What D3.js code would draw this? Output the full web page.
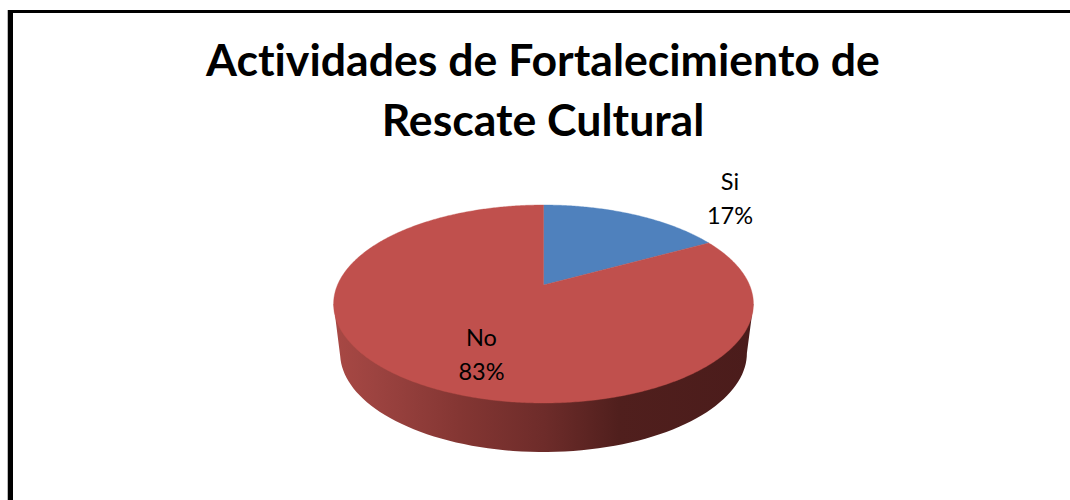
<!DOCTYPE html>
<html><head><meta charset="utf-8">
<script src="https://cdn.jsdelivr.net/npm/d3@7"></script>
<style>html,body{margin:0;padding:0;background:#fff;overflow:hidden}svg{display:block}text{font-variant-ligatures:none}</style>
</head><body><div id="chart"></div>
<script>
const categories = ["Si", "No"];
const values = [17, 83];
const percentLabels = ["17%", "83%"];
const titleLines = ["Actividades de Fortalecimiento de", "Rescate Cultural"];
const sliceColors = ["#4f81bd", "#c0504d"];

const W = 1070, H = 500;
const svg = d3.select("#chart").append("svg").attr("width", W).attr("height", H);
const font = "Lato, Carlito, Calibri, sans-serif";

// frame
svg.append("rect").attr("x", 7).attr("y", 10).attr("width", 1).attr("height", H - 10).attr("fill", "#bbb");
svg.append("rect").attr("x", 8).attr("y", 10).attr("width", 5).attr("height", H - 10).attr("fill", "#000");
svg.append("rect").attr("x", 8).attr("y", 10).attr("width", W - 8).attr("height", 3).attr("fill", "#000");

// perspective ground-plane projection of the pie disc
const cx = 543.5, cy = 304, k = -0.192, cU = 206, aV = 99, bV = -19;
function project(theta) {
  const u = Math.sin(theta), v = -Math.cos(theta), d = 1 + k * v;
  return [cx + cU * u / d, cy + (aV * v + bV) / d];
}
const apex = [cx, cy + bV];

const pie = d3.pie().sort(null).value(d => d)(values);
const line = d3.line();
const defs = svg.append("defs");
const grad = defs.append("linearGradient").attr("id", "wall")
  .attr("gradientUnits", "userSpaceOnUse").attr("x1", 334).attr("x2", 753).attr("y1", 0).attr("y2", 0);
[[0, "#a84844"], [0.1, "#9c4340"], [0.3, "#843633"], [0.5, "#6e2c2a"], [0.68, "#501f1d"], [1, "#4b1c1b"]]
  .forEach(([o, c]) => grad.append("stop").attr("offset", o).attr("stop-color", c));

// side wall: lower rim is the widest-to-widest front half of the disc, shifted down and slightly narrower
const rimDepth = 49, shrink = 6.5;
const widest = Math.acos(-k === 0 ? 0 : k) * 180 / Math.PI;
const wall = d3.range(widest, 360 - widest + 0.1, 2).map(t => {
  const [x, y] = project(t * Math.PI / 180);
  return [cx + (x - cx) * (1 - shrink / 210), y + rimDepth];
});
svg.append("path")
  .attr("d", line([project(widest * Math.PI / 180), ...wall, project((360 - widest) * Math.PI / 180)]) + "Z")
  .attr("fill", "url(#wall)");

// top face: one wedge per pie slice
svg.selectAll("path.slice").data(pie).enter().append("path")
  .attr("class", "slice")
  .attr("d", d => {
    const n = Math.ceil((d.endAngle - d.startAngle) / 0.01);
    const pts = d3.range(n + 1).map(i => project(d.startAngle + (d.endAngle - d.startAngle) * i / n));
    return line([apex, ...pts]) + "Z";
  })
  .attr("fill", (d, i) => sliceColors[i])
  .attr("stroke", (d, i) => sliceColors[i])
  .attr("stroke-width", 0.4);

// title
svg.selectAll("text.title").data(titleLines).enter().append("text")
  .attr("class", "title").attr("x", 543).attr("y", (d, i) => 76 + i * 60)
  .attr("text-anchor", "middle").attr("font-family", font)
  .attr("font-weight", 700).attr("font-size", 44.6).attr("fill", "#000").text(d => d);

// data labels
const labelPos = [[730, 190], [481.5, 346]];
categories.forEach((c, i) => {
  const g = svg.append("text").attr("text-anchor", "middle").attr("font-family", font)
    .attr("font-size", 23.5).attr("fill", "#000");
  g.append("tspan").attr("x", labelPos[i][0]).attr("y", labelPos[i][1]).text(c);
  g.append("tspan").attr("x", labelPos[i][0]).attr("y", labelPos[i][1] + 33.5).text(percentLabels[i]);
});
</script></body></html>
